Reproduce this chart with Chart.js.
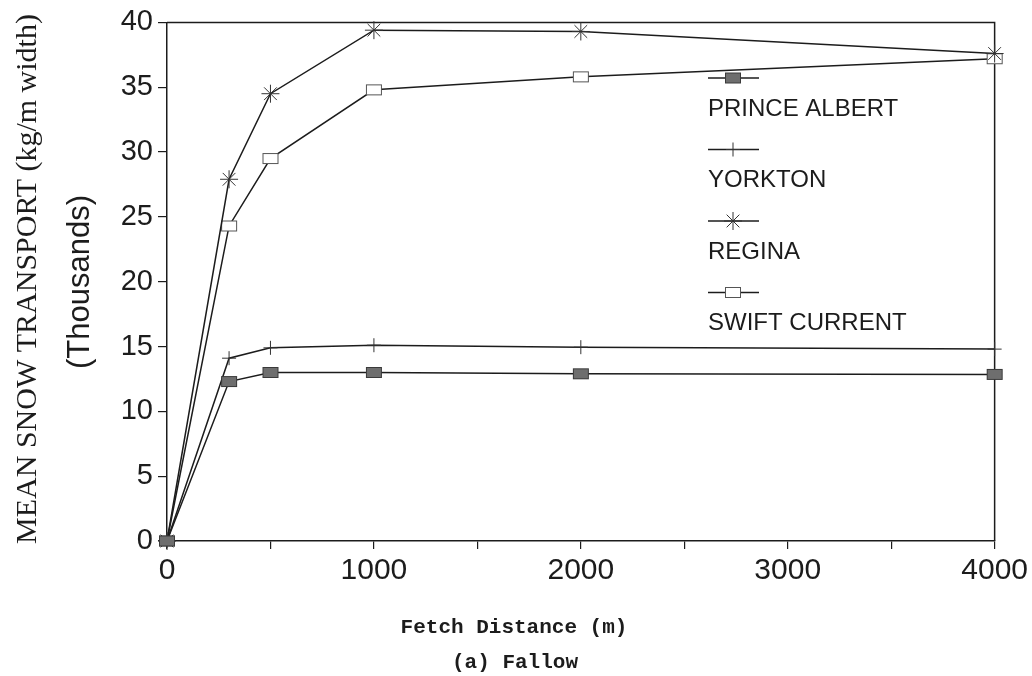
<!DOCTYPE html>
<html>
<head>
<meta charset="utf-8">
<script src="https://cdn.jsdelivr.net/npm/chart.js@4/dist/chart.umd.min.js"></script>
<style>
  html, body { margin: 0; padding: 0; background: #fff; }
  #wrap { width: 1032px; height: 676px; position: relative; }
</style>
</head>
<body>
<div id="wrap"><canvas id="c" width="1032" height="676"></canvas></div>
<script>
// ---- data ----
const fetchDistance = [0, 300, 500, 1000, 2000, 4000];
const seriesNames = ['PRINCE ALBERT', 'YORKTON', 'REGINA', 'SWIFT CURRENT'];
const princeAlbert = [0, 12.3, 13.0, 13.0, 12.9, 12.85];
const yorkton      = [0, 14.1, 14.9, 15.1, 14.95, 14.8];
const regina       = [0, 27.9, 34.5, 39.4, 39.3, 37.6];
const swiftCurrent = [0, 24.3, 29.5, 34.8, 35.8, 37.2];
const yTicks = [0, 5, 10, 15, 20, 25, 30, 35, 40];
const xTickLabels = [0, 1000, 2000, 3000, 4000];

const INK = '#1c1c1c';

function makeBox(fill) {
  const c = document.createElement('canvas');
  c.width = 18; c.height = 13;
  const g = c.getContext('2d');
  g.fillStyle = fill || '#ffffff';
  g.fillRect(1, 1, 16, 11);
  g.strokeStyle = fill ? '#3a3a3a' : '#555';
  g.lineWidth = 1;
  g.strokeRect(1.5, 1.5, 15, 10);
  return c;
}
const filledBox = makeBox('#6e6e6e');
const openBox = makeBox(null);

function pts(vals) { return fetchDistance.map((x, i) => ({ x: x, y: vals[i] })); }

const datasets = [
  { label: seriesNames[0], data: pts(princeAlbert), pointStyle: filledBox, pointRadius: 8 },
  { label: seriesNames[1], data: pts(yorkton), pointStyle: 'cross', pointRadius: 7, pointBorderWidth: 1 },
  { label: seriesNames[2], data: pts(regina), pointStyle: 'star', pointRadius: 9, pointBorderWidth: 1 },
  { label: seriesNames[3], data: pts(swiftCurrent), pointStyle: openBox, pointRadius: 8 }
].map(d => Object.assign({
  borderColor: INK, backgroundColor: '#fff', borderWidth: 1.5,
  pointBorderColor: '#333', pointBackgroundColor: '#fff', tension: 0, clip: false
}, d));

const LEFT = 167, RIGHT = 995, TOP = 19, BOTTOM = 541;

const extras = {
  id: 'extras',
  beforeDatasetsDraw(chart) {
    const ctx = chart.ctx, a = chart.chartArea;
    ctx.save();
    ctx.strokeStyle = INK; ctx.lineWidth = 1.5;
    ctx.beginPath();
    ctx.moveTo(a.left, a.top); ctx.lineTo(a.right, a.top); ctx.lineTo(a.right, a.bottom);
    ctx.stroke();
    ctx.restore();
  },
  afterDraw(chart) {
    const ctx = chart.ctx;
    ctx.save();
    // legend (symbol above label)
    const lx = 708, symY0 = 78, step = 71.5;
    chart.data.datasets.forEach((ds, i) => {
      const sy = symY0 + i * step;
      ctx.strokeStyle = INK; ctx.lineWidth = 1.3;
      ctx.beginPath(); ctx.moveTo(lx, sy); ctx.lineTo(lx + 51, sy); ctx.stroke();
      ctx.strokeStyle = '#333'; ctx.fillStyle = '#fff'; ctx.lineWidth = 1;
      Chart.helpers.drawPoint(ctx, { pointStyle: ds.pointStyle, radius: ds.pointRadius, rotation: 0, borderWidth: 1 }, lx + 25, sy);
      ctx.fillStyle = INK;
      ctx.font = '24px "Liberation Sans", Arial, sans-serif';
      ctx.textAlign = 'left'; ctx.textBaseline = 'middle';
      ctx.fillText(ds.label, lx, sy + 31);
    });

    // y titles
    ctx.fillStyle = INK;
    ctx.save();
    ctx.translate(28, 279); ctx.rotate(-Math.PI / 2);
    ctx.font = '30px "Liberation Serif", "Times New Roman", serif';
    ctx.textAlign = 'center'; ctx.textBaseline = 'middle';
    ctx.fillText('MEAN SNOW TRANSPORT (kg/m width)', 0, 0);
    ctx.restore();
    ctx.save();
    ctx.translate(80, 282); ctx.rotate(-Math.PI / 2);
    ctx.font = '31px "Liberation Sans", Arial, sans-serif';
    ctx.textAlign = 'center'; ctx.textBaseline = 'middle';
    ctx.fillText('(Thousands)', 0, 0);
    ctx.restore();

    // x titles
    ctx.font = 'bold 21px "Liberation Mono", "Courier New", monospace';
    ctx.textAlign = 'center'; ctx.textBaseline = 'middle';
    ctx.fillText('Fetch Distance (m)', 514, 628);
    ctx.fillText('(a) Fallow', 515, 663);
    ctx.restore();
  }
};

new Chart(document.getElementById('c'), {
  type: 'line',
  data: { datasets: datasets },
  options: {
    responsive: false,
    animation: false,
    events: [],
    layout: { padding: { left: 0, right: 1032 - RIGHT, top: TOP, bottom: 0 } },
    plugins: { legend: { display: false }, tooltip: { enabled: false } },
    scales: {
      x: {
        type: 'linear', min: 0, max: 4000,
        afterFit(s) { s.height = 676 - BOTTOM; },
        grid: { drawOnChartArea: false, drawTicks: true, tickLength: 8, color: INK, lineWidth: 1.2 },
        border: { display: true, color: INK, width: 1.5 },
        ticks: {
          stepSize: 500, autoSkip: false, maxRotation: 0, padding: 4,
          color: INK, font: { family: '"Liberation Sans", Arial, sans-serif', size: 30 },
          callback: v => xTickLabels.includes(v) ? String(v) : ''
        }
      },
      y: {
        min: 0, max: 40,
        afterFit(s) { s.width = LEFT; },
        afterBuildTicks(s) { s.ticks = yTicks.map(v => ({ value: v })); },
        grid: { drawOnChartArea: false, drawTicks: true, tickLength: 9, color: INK, lineWidth: 1.2 },
        border: { display: true, color: INK, width: 1.5 },
        ticks: {
          padding: 5, color: INK,
          font: { family: '"Liberation Sans", Arial, sans-serif', size: 29 }
        }
      }
    }
  },
  plugins: [extras]
});
</script>
</body>
</html>
